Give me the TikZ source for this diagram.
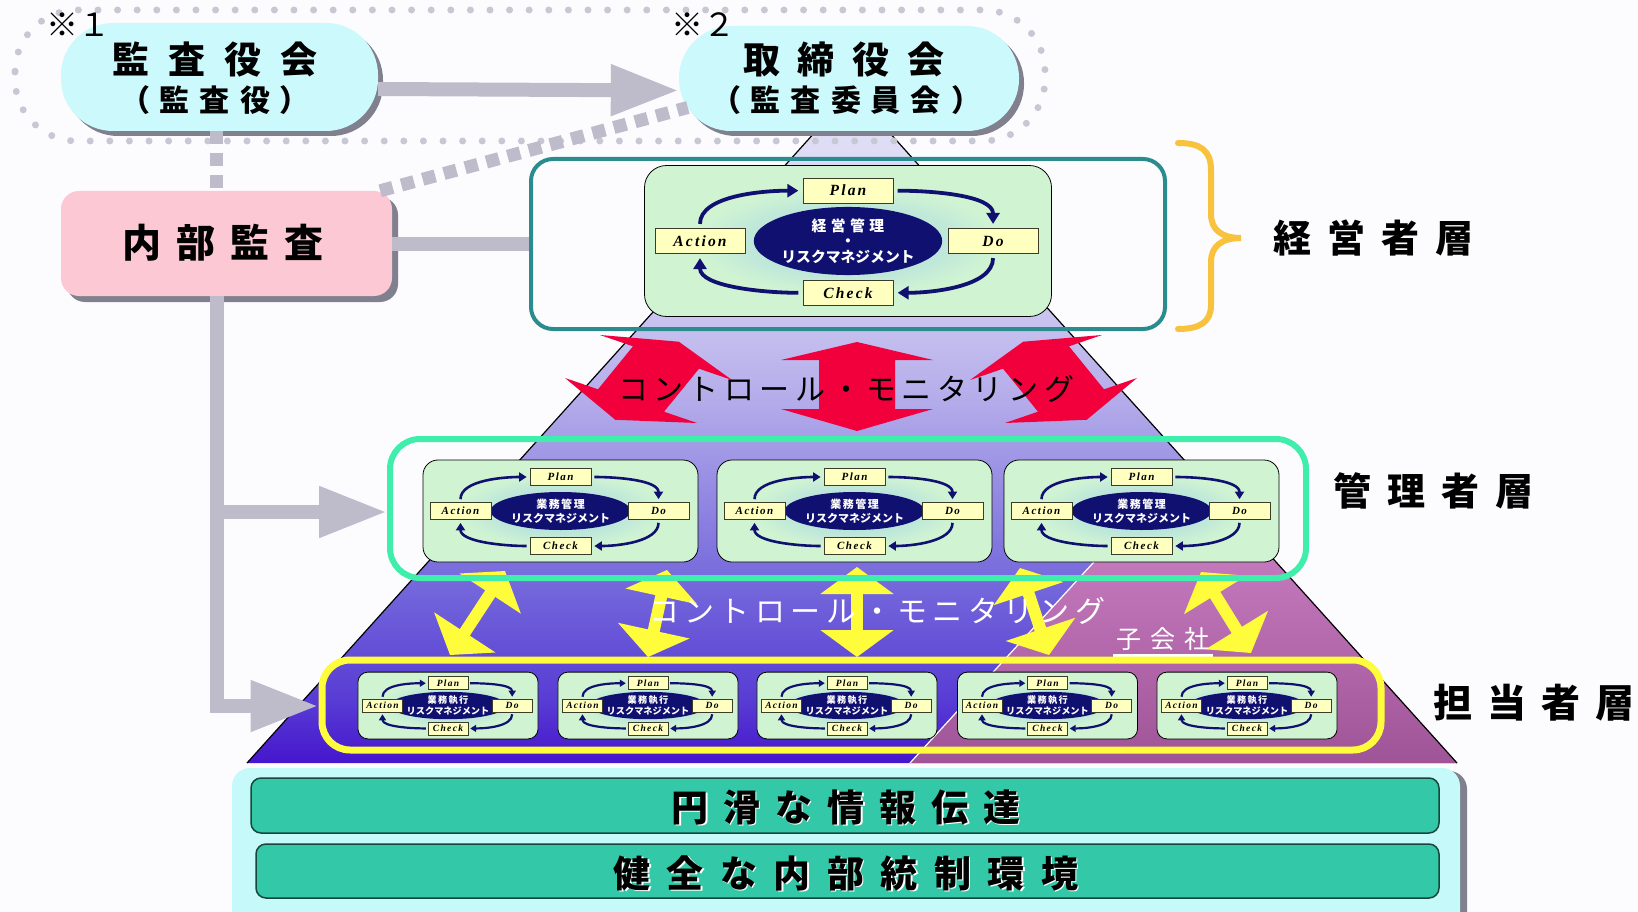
\documentclass[tikz,border=0pt]{standalone}
\usepackage{fontspec}
\newfontfamily\jp{Noto Sans CJK JP}
\newfontfamily\pdcafont{Liberation Serif}[LetterSpace=14]
\usetikzlibrary{arrows.meta,shapes.geometric,shadows,calc}

\definecolor{bgC}{RGB}{252,251,254}
\definecolor{cyanC}{RGB}{204,249,251}
\definecolor{shadC}{RGB}{128,128,142}
\definecolor{pinkC}{RGB}{251,200,212}
\definecolor{grayC}{RGB}{190,187,203}
\definecolor{dotC}{RGB}{200,200,212}
\definecolor{tealC}{RGB}{42,140,142}
\definecolor{mintC}{RGB}{64,238,172}
\definecolor{yelC}{RGB}{255,252,60}
\definecolor{redC}{RGB}{242,0,60}
\definecolor{navC}{RGB}{16,16,112}
\definecolor{boxC}{RGB}{208,244,210}
\definecolor{haloC}{RGB}{160,208,232}
\definecolor{labF}{RGB}{255,255,192}
\definecolor{labD}{RGB}{60,60,40}
\definecolor{braceC}{RGB}{248,194,60}
\definecolor{panelC}{RGB}{198,250,250}
\definecolor{barC}{RGB}{50,200,168}
\definecolor{barD}{RGB}{25,70,60}
\definecolor{pyr0}{RGB}{70,22,205}
\definecolor{pyr1}{RGB}{88,60,212}
\definecolor{pyr2}{RGB}{112,98,218}
\definecolor{pyr3}{RGB}{145,135,226}
\definecolor{pyr4}{RGB}{180,172,234}
\definecolor{pyr5}{RGB}{205,200,241}
\definecolor{pyr6}{RGB}{224,222,246}
\definecolor{pinkT}{RGB}{200,124,192}
\definecolor{pinkB}{RGB}{160,84,152}

\pgfdeclareverticalshading{pyr}{100bp}{color(0bp)=(pyr0); color(25bp)=(pyr0); color(29.7bp)=(pyr1); color(37.1bp)=(pyr2); color(44.6bp)=(pyr3); color(52bp)=(pyr4); color(59.5bp)=(pyr5); color(71.7bp)=(pyr6); color(100bp)=(pyr6)}

% #1 name, #2 centre, #3 scale, #4 size suffix (T/M/B), #5 text
\newcommand{\pdca}[5]{%
 \begin{scope}[shift={#2},scale=#3,transform shape]
  \node[pdbox#4] (#1) at (0,0) {};
  \shade[inner color=haloC,outer color=boxC] (0,0) ellipse [x radius=104,y radius=37];
  \node[pdell#4] (#1-c) at (0,0) {#5};
  \node[pdlab#4] (#1-p) at (0,-34) {Plan};
  \node[pdlab#4] (#1-d) at (98,0) {Do};
  \node[pdlab#4] (#1-k) at (0,35) {Check};
  \node[pdlab#4] (#1-a) at (-100,0) {Action};
  \draw[pdarr#4] (#1-a.north) .. controls +(0,-22) and +(-26,0) .. (#1-p.west);
  \draw[pdarr#4] (#1-p.east) .. controls +(26,0) and +(0,-22) .. (#1-d.north);
  \draw[pdarr#4] (#1-d.south) .. controls +(0,22) and +(26,0) .. (#1-k.east);
  \draw[pdarr#4] (#1-k.west) .. controls +(-26,0) and +(0,22) .. (#1-a.south);
 \end{scope}}

\begin{document}
\begin{tikzpicture}[x=1pt,y=-1pt,
  jt/.style n args={2}{inner sep=0pt,font={\jp\bfseries\fontsize{#1}{#1}\selectfont\spaceskip=#2pt\relax}},
  jr/.style n args={2}{inner sep=0pt,font={\jp\fontsize{#1}{#1}\selectfont\spaceskip=#2pt\relax}},
  stad/.style={rectangle,rounded corners=52,fill=cyanC,drop shadow={shadow xshift=5pt,shadow yshift=-5pt,fill=shadC,opacity=1}},
  nbox/.style={rectangle,rounded corners=18,fill=pinkC,minimum width=331,minimum height=105,drop shadow={shadow xshift=6pt,shadow yshift=-6pt,fill=shadC,opacity=1}},
  gline/.style={draw=grayC,line width=14},
  garr/.style={gline,-{Triangle[length=68pt,width=48pt]}},
  gdash/.style={draw=grayC,line width=13,dash pattern=on 13pt off 9pt},
  dotline/.style={draw=dotC,line width=7,dash pattern=on 0pt off 19.6pt,line cap=round,rounded corners=62},
  frm/.style={rectangle,draw=#1},
  pdbox/.style={rectangle,draw=black,line width=0.8pt,fill=boxC,minimum width=275,minimum height=102},
  pdboxT/.style={pdbox,rounded corners=22},
  pdboxM/.style={pdbox,rounded corners=15},
  pdboxB/.style={pdbox,rounded corners=10},
  pdell/.style={ellipse,fill=navC,text=white,inner sep=0pt,align=center},
  pdellT/.style={pdell,minimum width=124,minimum height=46,font=\jp\bfseries\fontsize{10}{10.6}\selectfont},
  pdellM/.style={pdell,minimum width=122,minimum height=38,font=\jp\bfseries\fontsize{11}{13.5}\selectfont},
  pdellB/.style={pdell,minimum width=128,minimum height=36,font=\jp\bfseries\fontsize{14}{16.5}\selectfont},
  pdlab/.style={rectangle,draw=labD,line width=0.7pt,fill=labF,inner sep=0pt,minimum width=61,minimum height=17},
  pdlabT/.style={pdlab,font=\pdcafont\bfseries\itshape\fontsize{10.5}{10.5}\selectfont},
  pdlabM/.style={pdlab,font=\pdcafont\bfseries\itshape\fontsize{11}{11}\selectfont},
  pdlabB/.style={pdlab,minimum height=20,font=\pdcafont\bfseries\itshape\fontsize{14.5}{14.5}\selectfont},
  pdarrT/.style={draw=navC,line width=3.8pt,-{Triangle[length=11pt,width=13pt]},shorten <=4pt,shorten >=4pt},
  pdarrM/.style={draw=navC,line width=2.6pt,-{Triangle[length=7.5pt,width=9pt]},shorten <=3pt,shorten >=3pt},
  pdarrB/.style={draw=navC,line width=2.2pt,-{Triangle[length=6pt,width=7pt]},shorten <=2pt,shorten >=2pt},
  yarr/.style={draw=yelC,line width=12,{Triangle[length=27pt,width=72pt]}-{Triangle[length=27pt,width=72pt]}},
  bar/.style={rectangle,draw=barD,line width=1.5pt,fill=barC,rounded corners=10}
]
\useasboundingbox (0,0) rectangle (1638,912);
\fill[bgC] (0,0) rectangle (1638,912);

% pyramid
\shade[shading=pyr] (852,91) -- (1457,763) -- (247,763) -- cycle;
\begin{scope}
 \clip (852,91) -- (1457,763) -- (247,763) -- cycle;
 \shade[top color=pinkT,bottom color=pinkB] (1114,540) -- (1500,540) -- (1500,763) -- (910,763) -- cycle;
 \draw[white,line width=1.2] (1114,540) -- (910,763);
\end{scope}
\draw[black,line width=1.2] (247,763) -- (852,91) -- (1457,763);

% dotted enclosure
\draw[dotline] (15,10) rectangle (1045,141);

% top nodes
\node[stad,minimum width=317,minimum height=108] (kansa) at (219.5,77) {};
\node[stad,minimum width=340,minimum height=105] (tori) at (849,78.5) {};
\node[nbox] (naibu) at (226.5,243.5) {};
\node[jt={37}{19}] (kansa-t1) at (215,60) {監 査 役 会};
\node[jt={30}{10}] (kansa-t2) at (215,100) {（ 監 査 役 ）};
\node[jt={37}{18}] (tori-t1) at (844,60) {取 締 役 会};
\node[jt={30}{10}] (tori-t2) at (846,100) {（ 監 査 委 員 会 ）};
\node[jt={39}{15}] (naibu-t) at (223,243) {内 部 監 査};
\node[jr={32}{0}] (note1) at (78,25) {※１};
\node[jr={32}{0}] (note2) at (703,25) {※２};

% base panel
\node[rectangle,rounded corners=18,fill=panelC,minimum width=1228,minimum height=170,drop shadow={shadow xshift=7pt,shadow yshift=-3pt,fill=shadC,opacity=1}] (base) at (846,853) {};
\node[bar,minimum width=1188,minimum height=55] (bar1) at (845,805.5) {};
\node[bar,minimum width=1183,minimum height=54] (bar2) at (847.5,871) {};
\node[jt={37}{15},text=white] (bar1-s) at (847.5,808.5) {円 滑 な 情 報 伝 達};
\node[jt={37}{15}] (bar1-t) at (846,807) {円 滑 な 情 報 伝 達};
\node[jt={37}{16.5},text=white] (bar2-s) at (847.5,874.5) {健 全 な 内 部 統 制 環 境};
\node[jt={37}{16.5}] (bar2-t) at (846,873) {健 全 な 内 部 統 制 環 境};

% top layer box
\node[frm=tealC,line width=4,rounded corners=22,minimum width=634,minimum height=170] (tframe) at (848,244) {};
\pdca{top}{(848,241)}{1.48}{T}{経\kern3pt営\kern3pt管\kern3pt理\\・\\リスクマネジメント}

% red control arrows
\fill[redC] (678.8,341.7) -- (732.0,380.0) -- (699.0,368.7) -- (664.0,411.7) -- (697.0,423.0) -- (615.3,419.8) -- (565.0,378.0) -- (598.0,389.3) -- (633.0,346.3) -- (600.0,335.0) -- cycle;
\fill[redC] (857,342) -- (933,360) -- (895,360) -- (895,409) -- (933,409) -- (857,431) -- (781,409) -- (819,409) -- (819,360) -- (781,360) -- cycle;
\fill[redC] (1023.2,341.7) -- (970.0,380.0) -- (1003.0,368.7) -- (1038.0,411.7) -- (1005.0,423.0) -- (1086.7,419.8) -- (1137.0,378.0) -- (1104.0,389.3) -- (1069.0,346.3) -- (1102.0,335.0) -- cycle;
\node[jr={30}{5.5}] (cm1) at (846,389) {コ ン ト ロ ー ル ・ モ ニ タ リ ン グ};

% yellow control arrows
\coordinate (ya1) at (505,571); \coordinate (yb1) at (450,655);
\coordinate (ya2) at (667,570); \coordinate (yb2) at (648,657);
\coordinate (ya3) at (857,567); \coordinate (yb3) at (857,657);
\coordinate (ya4) at (1020,568); \coordinate (yb4) at (1049,655);
\coordinate (ya5) at (1201,572); \coordinate (yb5) at (1251,653);
\draw[yarr] (ya1) -- (yb1);
\draw[yarr] (ya2) -- (yb2);
\draw[yarr] (ya3) -- (yb3);
\draw[yarr] (ya4) -- (yb4);
\draw[yarr] (ya5) -- (yb5);
\node[jr={30}{5.5},text=white] (cm2) at (877,611) {コ ン ト ロ ー ル ・ モ ニ タ リ ン グ};
\node[jr={25}{9},text=white] (kog) at (1163,639) {子 会 社};
\draw[white,line width=2.5] ([xshift=-3pt,yshift=-5pt]kog.south west) -- ([xshift=3pt,yshift=-5pt]kog.south east);

% middle layer
\node[frm=mintC,line width=6,rounded corners=30,minimum width=916,minimum height=139] (gframe) at (848,508.5) {};
\pdca{m1}{(560.5,511)}{1}{M}{業\kern1.5pt務\kern1.5pt管\kern1.5pt理\\リスクマネジメント}
\pdca{m2}{(854.5,511)}{1}{M}{業\kern1.5pt務\kern1.5pt管\kern1.5pt理\\リスクマネジメント}
\pdca{m3}{(1141.5,511)}{1}{M}{業\kern1.5pt務\kern1.5pt管\kern1.5pt理\\リスクマネジメント}

% bottom layer
\node[frm=yelC,line width=7,rounded corners=28,minimum width=1059,minimum height=90] (yframe) at (851.5,705) {};
\pdca{b1}{(448,705.5)}{0.655}{B}{業\kern2pt務\kern2pt執\kern2pt行\\リスクマネジメント}
\pdca{b2}{(648,705.5)}{0.655}{B}{業\kern2pt務\kern2pt執\kern2pt行\\リスクマネジメント}
\pdca{b3}{(847,705.5)}{0.655}{B}{業\kern2pt務\kern2pt執\kern2pt行\\リスクマネジメント}
\pdca{b4}{(1047.5,705.5)}{0.655}{B}{業\kern2pt務\kern2pt執\kern2pt行\\リスクマネジメント}
\pdca{b5}{(1247,705.5)}{0.655}{B}{業\kern2pt務\kern2pt執\kern2pt行\\リスクマネジメント}

% gray connectors
\draw[garr] ([yshift=-12pt]kansa.east) -- ([yshift=-12pt]tori.west);
\draw[gdash] ([xshift=-3.5pt]kansa.south) -- ([xshift=-10.5pt]naibu.north);
\draw[gdash] ([xshift=-12pt]naibu.north east) -- ([xshift=9pt,yshift=-29pt]tori.west);
\draw[gline] (naibu.east |- tframe.west) -- (tframe.west);
\coordinate (jb1) at (217,512);
\coordinate (jb2) at (217,706);
\draw[garr] ([xshift=-9.5pt]naibu.south) |- (yframe.west |- jb2);
\draw[garr] (jb1) -- (gframe.west |- jb1);

% layer labels
\draw[braceC,line width=6,line cap=round] (1178,143) .. controls (1200,143) and (1211,150) .. (1211,170) -- (1211,214) .. controls (1211,230) and (1222,238) .. (1241,238) .. controls (1222,238) and (1211,246) .. (1211,262) -- (1211,305) .. controls (1211,322) and (1200,329) .. (1178,329);
\node[jt={38}{16}] (lay1) at (1373,238) {経 営 者 層};
\node[jt={38}{16}] (lay2) at (1433,491) {管 理 者 層};
\node[jt={39}{15}] (lay3) at (1534,703) {担 当 者 層};
\end{tikzpicture}
\end{document}
